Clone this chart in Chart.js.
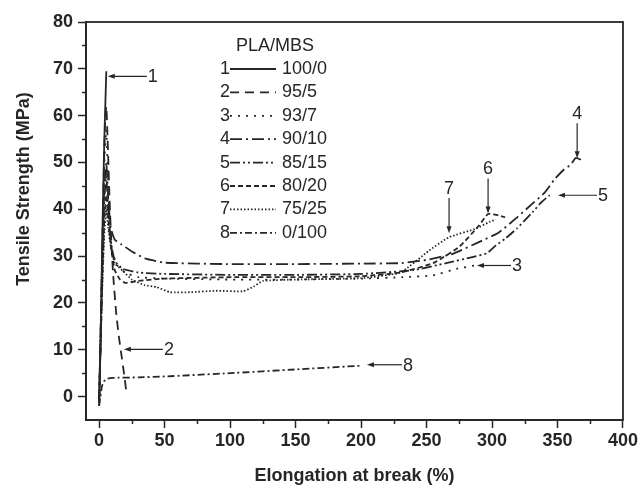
<!DOCTYPE html>
<html>
<head>
<meta charset="utf-8">
<title>Tensile strength vs elongation - PLA/MBS</title>
<script src="https://cdn.jsdelivr.net/npm/chart.js@4.4.1/dist/chart.umd.min.js"></script>
<style>
  html, body { margin: 0; padding: 0; background: #fff; }
  #wrap { width: 640px; height: 485px; }
</style>
</head>
<body>
<div id="wrap"><canvas id="chart" width="640" height="485"></canvas></div>
<script>
// ==================== DATA ====================
// [elongation %, tensile strength MPa]
const curve1 = [[0, -2], [1, 10], [2.5, 35], [4, 55], [5.5, 69.5]];
const curve2 = [[0, -1], [1.5, 15], [3, 40], [4.5, 58], [5.5, 62], [6.5, 55], [8, 42], [9.5, 32],
  [11, 25], [13, 18], [15, 13], [17, 9], [19, 5], [21, 0.5]];
const curve3 = [[0, -1], [2, 25], [4, 50], [5.5, 57], [7, 45], [8.5, 35], [10, 31], [14, 28],
  [20, 26.5], [30, 25.5], [50, 25.2], [100, 25], [150, 25], [200, 25.2], [232, 25.5],
  [255, 25.9], [273, 27.3], [289, 28.1]];
const curve4 = [[0, -1], [2, 25], [4, 45], [5.5, 50], [7, 42], [9, 36], [12, 33.5], [17, 32.5],
  [25, 31], [35, 29.5], [50, 28.6], [100, 28.3], [150, 28.3], [200, 28.4], [230, 28.5],
  [250, 29.2], [270, 30.5], [290, 33], [305, 35], [318, 38], [330, 41], [340, 43.5],
  [348, 46.5], [355, 48.5], [360, 49.5], [364, 51], [370, 50.3]];
const curve5 = [[0, -1], [2, 22], [4, 42], [5.5, 47], [7, 40], [9, 33], [12, 29], [18, 27.3],
  [30, 26.5], [50, 26.2], [100, 26], [150, 26], [200, 26.2], [240, 27], [265, 28.5],
  [285, 29.8], [296, 30.6], [303, 32.3], [310, 33.7], [319, 35.9], [331, 39.4],
  [338, 41.6], [344, 43]];
const curve6 = [[0, -1], [2, 20], [4, 38], [5.5, 43], [7, 38], [9, 32], [12, 27], [16, 25],
  [20, 24.3], [30, 24.7], [50, 25.2], [100, 25.5], [150, 25.5], [200, 25.7], [230, 26.5],
  [255, 28.5], [275, 32], [290, 36.5], [297, 39], [305, 38.7], [310, 38.3]];
const curve7 = [[0, -1], [2, 20], [4, 35], [5.5, 40], [7, 36], [9, 32], [12, 28.5], [18, 26.9],
  [25, 25], [35, 23.8], [44, 23.4], [54, 22.3], [70, 22.3], [89, 22.6], [110, 22.5],
  [118, 23.5], [125, 24.7], [150, 25], [200, 25.3], [230, 26.5], [252, 31.2], [267, 34],
  [288, 35.9], [298, 37.3], [303, 37.8]];
const curve8 = [[0, -2], [1, 0], [2, 2], [3.5, 3.2], [6, 3.8], [10, 4], [30, 4.1], [50, 4.3],
  [100, 5], [150, 5.8], [200, 6.6]];

const curveIds = ["1", "2", "3", "4", "5", "6", "7", "8"];
const blendRatios = ["100/0", "95/5", "93/7", "90/10", "85/15", "80/20", "75/25", "0/100"];

const xTicks = [0, 50, 100, 150, 200, 250, 300, 350, 400];
const xMinorTicks = [25, 75, 125, 175, 225, 275, 325, 375];
const yTicks = [0, 10, 20, 30, 40, 50, 60, 70, 80];
const yMinorTicks = [5, 15, 25, 35, 45, 55, 65, 75];

// callouts: label, arrow tip and tail in data units
const callouts = [
  { text: "1", tip: [6.6, 68.4], tail: [36.4, 68.4] },
  { text: "2", tip: [18.9, 10.1], tail: [48.7, 10.1] },
  { text: "3", tip: [288.5, 28.0], tail: [314.5, 28.0] },
  { text: "4", tip: [365, 50.9], tail: [365, 58.4] },
  { text: "5", tip: [350.4, 43.0], tail: [380.2, 43.0] },
  { text: "6", tip: [297, 39.1], tail: [297, 46.6] },
  { text: "7", tip: [267.2, 34.9], tail: [267.2, 42.4] },
  { text: "8", tip: [204.5, 6.8], tail: [231.2, 6.8] },
];

// ==================== STYLE ====================
const INK = "#262626";
const FONT = '"Liberation Sans", Arial, Helvetica, sans-serif';
const dashPatterns = [[], [9, 6], [2, 6], [12, 4, 2, 4], [10, 3, 2, 3, 2, 3], [5, 3], [1.5, 2], [7, 3, 2, 3]];

// ==================== EXTRAS PLUGIN ====================
const figureExtras = {
  id: "figureExtras",
  afterDraw(chart) {
    const { ctx, chartArea: a, scales } = chart;
    const xs = scales.x;
    const ys = scales.y;
    ctx.save();

    // frame
    ctx.strokeStyle = INK;
    ctx.lineWidth = 1.8;
    ctx.setLineDash([]);
    ctx.strokeRect(a.left, a.top, a.right - a.left, a.bottom - a.top);

    // minor ticks
    ctx.lineWidth = 1.5;
    ctx.beginPath();
    xMinorTicks.forEach((v) => {
      const px = Math.round(xs.getPixelForValue(v)) + 0.5;
      ctx.moveTo(px, a.bottom);
      ctx.lineTo(px, a.bottom + 4);
    });
    yMinorTicks.forEach((v) => {
      const py = Math.round(ys.getPixelForValue(v)) + 0.5;
      ctx.moveTo(a.left, py);
      ctx.lineTo(a.left - 4, py);
    });
    ctx.stroke();

    // axis titles
    ctx.fillStyle = INK;
    ctx.font = "bold 18px " + FONT;
    ctx.textAlign = "center";
    ctx.textBaseline = "alphabetic";
    ctx.fillText("Elongation at break (%)", (a.left + a.right) / 2, 481);
    ctx.save();
    ctx.translate(29, 189);
    ctx.rotate(-Math.PI / 2);
    ctx.fillText("Tensile Strength (MPa)", 0, 0);
    ctx.restore();

    // legend block
    ctx.font = "18px " + FONT;
    ctx.textBaseline = "middle";
    ctx.textAlign = "left";
    const lx = a.left + 134;
    ctx.fillText("PLA/MBS", lx + 16, a.top + 24);
    curveIds.forEach((id, i) => {
      const ry = a.top + 47 + i * 23.4;
      ctx.fillStyle = INK;
      ctx.fillText(id, lx, ry);
      ctx.strokeStyle = INK;
      ctx.lineWidth = 1.8;
      ctx.setLineDash(dashPatterns[i]);
      ctx.beginPath();
      ctx.moveTo(lx + 10, ry);
      ctx.lineTo(lx + 56, ry);
      ctx.stroke();
      ctx.setLineDash([]);
      ctx.fillText(blendRatios[i], lx + 62, ry);
    });

    // callout arrows and numbers
    ctx.lineWidth = 1.2;
    ctx.setLineDash([]);
    callouts.forEach((c) => {
      const tx = xs.getPixelForValue(c.tip[0]);
      const ty = ys.getPixelForValue(c.tip[1]);
      const sx = xs.getPixelForValue(c.tail[0]);
      const sy = ys.getPixelForValue(c.tail[1]);
      const ang = Math.atan2(ty - sy, tx - sx);
      ctx.beginPath();
      ctx.moveTo(sx, sy);
      ctx.lineTo(tx - 6 * Math.cos(ang), ty - 6 * Math.sin(ang));
      ctx.stroke();
      ctx.beginPath();
      ctx.moveTo(tx, ty);
      ctx.lineTo(tx - 7 * Math.cos(ang) + 2.5 * Math.sin(ang), ty - 7 * Math.sin(ang) - 2.5 * Math.cos(ang));
      ctx.lineTo(tx - 7 * Math.cos(ang) - 2.5 * Math.sin(ang), ty - 7 * Math.sin(ang) + 2.5 * Math.cos(ang));
      ctx.closePath();
      ctx.fill();
      if (Math.abs(sy - ty) < 1) {
        ctx.textAlign = "left";
        ctx.textBaseline = "middle";
        ctx.fillText(c.text, sx + 1, sy + 1);
      } else {
        ctx.textAlign = "center";
        ctx.textBaseline = "alphabetic";
        ctx.fillText(c.text, sx, sy - 4);
      }
    });

    ctx.restore();
  },
};

// ==================== CHART ====================
const curves = [curve1, curve2, curve3, curve4, curve5, curve6, curve7, curve8];

const datasets = curves.map((pts, i) => ({
  label: blendRatios[i],
  data: pts.map(([x, y]) => ({ x: x, y: y })),
  borderColor: INK,
  borderWidth: 1.8,
  borderDash: dashPatterns[i],
  pointRadius: 0,
  tension: 0.15,
  fill: false,
}));

const tickFont = { family: FONT, size: 18, weight: "bold" };

new Chart(document.getElementById("chart"), {
  type: "line",
  data: { datasets: datasets },
  options: {
    responsive: false,
    animation: false,
    devicePixelRatio: 1,
    layout: { padding: { left: 0, right: 17, top: 22, bottom: 0 } },
    plugins: {
      legend: { display: false },
      tooltip: { enabled: false },
    },
    scales: {
      x: {
        type: "linear",
        min: -10,
        max: 400,
        afterBuildTicks: (s) => {
          s.ticks = xTicks.map((v) => ({ value: v }));
        },
        afterFit: (s) => {
          s.height = 65;
        },
        grid: { drawOnChartArea: false, drawTicks: true, tickLength: 8, tickColor: INK, tickWidth: 1.5 },
        border: { display: true, color: INK, width: 1.8 },
        ticks: { color: INK, font: tickFont, padding: 2, maxRotation: 0 },
      },
      y: {
        type: "linear",
        min: -5,
        max: 80,
        afterBuildTicks: (s) => {
          s.ticks = yTicks.map((v) => ({ value: v }));
        },
        afterFit: (s) => {
          s.width = 86;
        },
        grid: { drawOnChartArea: false, drawTicks: true, tickLength: 8, tickColor: INK, tickWidth: 1.5 },
        border: { display: true, color: INK, width: 1.8 },
        ticks: { color: INK, font: tickFont, padding: 5 },
      },
    },
  },
  plugins: [figureExtras],
});
</script>
</body>
</html>
